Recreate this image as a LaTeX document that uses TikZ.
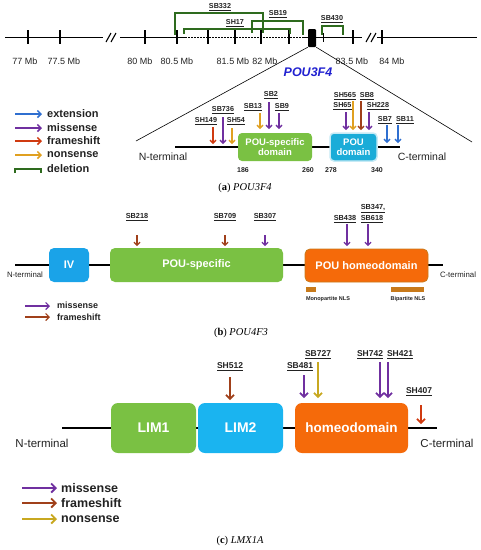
\documentclass[tikz,border=0pt]{standalone}
\usepackage{fontspec}
\setmainfont{Liberation Sans}
\newfontfamily\capfont{Liberation Serif}
\usetikzlibrary{arrows.meta}
\definecolor{cext}{HTML}{2F6FD0}
\definecolor{cmis}{HTML}{7030A0}
\definecolor{cfra}{HTML}{D03A10}
\definecolor{cnon}{HTML}{E0A020}
\definecolor{cdel}{HTML}{2E6B1E}
\definecolor{cbrown}{HTML}{A0401A}
\definecolor{cgold}{HTML}{C8A820}
\definecolor{cgreen}{HTML}{7AC143}
\definecolor{ccyan}{HTML}{1AACD8}
\definecolor{cblue}{HTML}{1AA3E8}
\definecolor{clim}{HTML}{1AB4F0}
\definecolor{corange}{HTML}{F56A0A}
\definecolor{cnls}{HTML}{C87A1A}
\definecolor{cgene}{HTML}{2020D0}
\definecolor{ctxt}{HTML}{222222}
% id, x, ytop, ybot, colour, label x, label y, label, size style
\newcommand\mutarw[9]{%
  \node[lab#9] (l#1) at (#6,#7) {\underline{#8}};
  \coordinate (s#1) at (#2,#3);
  \coordinate (e#1) at (#2,#4);
  \draw[arr#9,#5] (s#1) -- (e#1);
}
\begin{document}
\begin{tikzpicture}[x=1pt,y=-1pt,
  labA/.style={font=\fontsize{7.2}{8}\selectfont\bfseries, text=ctxt, inner sep=0pt},
  labB/.style={font=\fontsize{7.3}{8.5}\selectfont\bfseries, text=ctxt, inner sep=0pt},
  labC/.style={font=\fontsize{8.5}{9.5}\selectfont\bfseries, text=ctxt, inner sep=0pt},
  arrA/.style={line width=1.3pt, -{Straight Barb[length=3pt,width=6pt]}},
  arrB/.style={line width=1.2pt, -{Straight Barb[length=3pt,width=6pt]}},
  arrC/.style={line width=1.7pt, -{Straight Barb[length=4pt,width=8pt]}},
  chrom/.style={line width=1.5pt, black},
  tickmark/.style={line width=1.3pt, black},
  delline/.style={line width=1.2pt, cdel},
  prot/.style={line width=1.3pt, black},
  dombox/.style={rounded corners=4pt, inner sep=0pt, text=white, align=center},
  mbtext/.style={font=\fontsize{9}{10}\selectfont, text=ctxt, inner sep=0pt},
  legA/.style={font=\fontsize{11}{12}\selectfont\bfseries, text=ctxt, anchor=west, inner sep=0pt},
  legB/.style={font=\fontsize{9}{10}\selectfont\bfseries, text=ctxt, anchor=west, inner sep=0pt},
  legC/.style={font=\fontsize{12.5}{13}\selectfont\bfseries, text=ctxt, anchor=west, inner sep=0pt},
  captxt/.style={font=\capfont\fontsize{10.5}{12}\selectfont, inner sep=0pt}
]
\useasboundingbox (0,0) rectangle (481,550);

%% ================= (a) chromosome =================
\coordinate (c0) at (5,37.7);
\coordinate (c1) at (103,37.7);
\coordinate (c2) at (120,37.7);
\coordinate (c3) at (185,37.7);
\coordinate (c4) at (303,37.7);
\coordinate (c5) at (362,37.7);
\coordinate (c6) at (377,37.7);
\coordinate (c7) at (477,37.7);
\draw[chrom] (c0) -- (c1);
\draw[chrom] (c2) -- (c3);
\draw[chrom] (c4) -- (c5);
\draw[chrom] (c6) -- (c7);
\draw[line width=1.3pt, dash pattern=on 1.5pt off 1.5pt] (c3) -- (c4);
% breaks
\draw[line width=1.1pt] (106,42) -- (111,33) (111,42) -- (116,33);
\draw[line width=1.1pt] (366,42) -- (371,33) (371,42) -- (376,33);
% ticks
\foreach \x in {28,60,145,177,208,235,261,289,353,382}
  \draw[tickmark] (\x,30) -- (\x,44);
\draw[line width=1pt] (323,33) -- (323,42);
% Mb labels
\node[mbtext] (mb1) at (25,61) {77 Mb};
\node[mbtext] (mb2) at (64,61) {77.5 Mb};
\node[mbtext] (mb3) at (140,61) {80 Mb};
\node[mbtext] (mb4) at (177,61) {80.5 Mb};
\node[mbtext] (mb5) at (233,61) {81.5 Mb};
\node[mbtext] (mb6) at (265,61) {82 Mb};
\node[mbtext] (mb7) at (352,61) {83.5 Mb};
\node[mbtext] (mb8) at (392,61) {84 Mb};
% gene
\node[fill=black, minimum width=8pt, minimum height=18pt, inner sep=0pt, rounded corners=1pt] (gene) at (312,38) {};
\node[font=\fontsize{12.5}{14}\selectfont\bfseries\itshape, text=cgene, inner sep=0pt] (glabel) at (308,72) {POU3F4};
% deletions
\coordinate (d1l) at (175,35); \coordinate (d1r) at (263,33);
\draw[delline] (d1l) -- ++(0,-22) -| (d1r);
\node[labA] (ld1) at (220,7) {\underline{SB332}};
\coordinate (d2l) at (184,34); \coordinate (d2r) at (290,34);
\draw[delline] (d2l) -- ++(0,-5) -| (d2r);
\node[labA] (ld2) at (235,23) {\underline{SH17}};
\coordinate (d3l) at (252,33); \coordinate (d3r) at (303,35);
\draw[delline] (d3l) -- ++(0,-12) -| (d3r);
\node[labA] (ld3) at (278,14) {\underline{SB19}};
\coordinate (d4l) at (322,35); \coordinate (d4r) at (343,35);
\draw[delline] (d4l) -- ++(0,-9) -| (d4r);
\node[labA] (ld4) at (332,19.5) {\underline{SB430}};
% zoom lines
\coordinate (zl) at (136,141);
\coordinate (zr) at (472,142);
\draw[line width=0.6pt] (gene.south west) -- (zl);
\draw[line width=0.6pt] (gene.south east) -- (zr);

%% ================= (a) legend =================
\foreach \i/\y/\c/\t in {1/114/cext/extension, 2/128/cmis/missense, 3/141/cfra/frameshift, 4/155/cnon/nonsense}{
  \coordinate (lgAs\i) at (15,\y);
  \coordinate (lgAe\i) at (42,\y);
  \draw[line width=1.5pt, -{Straight Barb[length=3.5pt,width=7pt]}, \c] (lgAs\i) -- (lgAe\i);
  \node[legA] (lgAt\i) at (47,\y) {\t};
}
\coordinate (lgAs5) at (15,173); \coordinate (lgAe5) at (41,173);
\draw[delline, line width=1.5pt] (lgAs5) -- ++(0,-4) -| (lgAe5);
\node[legA] (lgAt5) at (47,169) {deletion};

%% ================= (a) protein =================
\coordinate (an) at (175,147);
\coordinate (ac) at (400,147);
\draw[prot] (an) -- (ac);
\node[dombox, fill=cgreen, minimum width=74pt, minimum height=28pt,
  font=\fontsize{9.5}{10.5}\selectfont\bfseries] (psdA) at (275,147) {POU-specific\\domain};
\node[dombox, fill=ccyan, draw=ccyan!25, line width=1.5pt, minimum width=47pt, minimum height=28pt,
  font=\fontsize{9.5}{10.5}\selectfont\bfseries] (pdA) at (353.5,147) {POU\\domain};
\node[font=\fontsize{10.5}{12}\selectfont, text=ctxt, inner sep=0pt] (ntA) at (163,157) {N-terminal};
\node[font=\fontsize{10.5}{12}\selectfont, text=ctxt, inner sep=0pt] (ctA) at (422,157) {C-terminal};
\node[font=\fontsize{7}{8}\selectfont\bfseries, text=ctxt, inner sep=0pt] (n186) at (243,170) {186};
\node[font=\fontsize{7}{8}\selectfont\bfseries, text=ctxt, inner sep=0pt] (n260) at (308,170) {260};
\node[font=\fontsize{7}{8}\selectfont\bfseries, text=ctxt, inner sep=0pt] (n278) at (331,170) {278};
\node[font=\fontsize{7}{8}\selectfont\bfseries, text=ctxt, inner sep=0pt] (n340) at (377,170) {340};
% mutations (a)
\mutarw{a1}{213}{127}{144}{cfra}{206}{121}{SH149}{A}
\mutarw{a2}{223}{117}{144}{cmis}{223}{110}{SB736}{A}
\mutarw{a3}{232}{128}{144}{cnon}{236}{121}{SH54}{A}
\mutarw{a4}{260}{113}{129}{cnon}{253}{107}{SB13}{A}
\mutarw{a5}{269}{102}{129}{cmis}{271}{95}{SB2}{A}
\mutarw{a6}{279}{113}{129}{cmis}{282}{107}{SB9}{A}
\mutarw{a7}{346}{112}{130}{cmis}{342.5}{106.5}{SH65}{A}
\mutarw{a8}{353}{101}{130}{cnon}{345}{96}{SH565}{A}
\mutarw{a9}{361}{101}{130}{cbrown}{367}{96}{SB8}{A}
\mutarw{a10}{369}{112}{130}{cmis}{378}{106.5}{SH228}{A}
\mutarw{a11}{387}{125}{143}{cext}{385}{120.5}{SB7}{A}
\mutarw{a12}{398}{125}{143}{cext}{405}{120.5}{SB11}{A}
\node[captxt] (capA) at (245,188) {(\textbf{a}) \textit{POU3F4}};

%% ================= (b) =================
\coordinate (bn) at (15,265);
\coordinate (bc) at (443,265);
\draw[prot] (bn) -- (bc);
\node[dombox, rounded corners=5pt, fill=cblue, minimum width=40pt, minimum height=34pt,
  font=\fontsize{11}{12}\selectfont\bfseries] (ivB) at (69,265) {IV};
\node[dombox, rounded corners=5pt, fill=cgreen, minimum width=173pt, minimum height=34pt,
  font=\fontsize{11}{12}\selectfont\bfseries] (psB) at (196.5,265) {POU-specific};
\node[dombox, rounded corners=5pt, fill=corange, draw=cnls, line width=0.8pt, minimum width=123pt, minimum height=33pt,
  font=\fontsize{11}{12}\selectfont\bfseries] (hdB) at (366.5,265.5) {POU homeodomain};
\node[fill=cnls, minimum width=10pt, minimum height=5pt, inner sep=0pt] (nls1) at (311,289.5) {};
\node[fill=cnls, minimum width=33pt, minimum height=5pt, inner sep=0pt] (nls2) at (407.5,289.5) {};
\node[font=\fontsize{5.5}{6}\selectfont\bfseries, text=ctxt, inner sep=0pt] (nlsl1) at (328,299) {Monopartite NLS};
\node[font=\fontsize{5.5}{6}\selectfont\bfseries, text=ctxt, inner sep=0pt] (nlsl2) at (408,299) {Bipartite NLS};
\node[font=\fontsize{7.8}{9}\selectfont, text=ctxt, inner sep=0pt] (ntB) at (25,275) {N-terminal};
\node[font=\fontsize{7.8}{9}\selectfont, text=ctxt, inner sep=0pt] (ctB) at (458,275) {C-terminal};
\mutarw{b1}{137}{235}{246}{cbrown}{137}{217}{SB218}{B}
\mutarw{b2}{225}{235}{246}{cbrown}{225}{217}{SB709}{B}
\mutarw{b3}{265}{235}{246}{cmis}{265}{217}{SB307}{B}
\mutarw{b4}{347}{224}{246}{cmis}{345}{219}{SB438}{B}
\node[labB] (lb5a) at (373,209) {\underline{SB347,}};
\node[labB] (lb5b) at (372,219) {\underline{SB618}};
\coordinate (sb5) at (368,224);
\coordinate (eb5) at (368,246);
\draw[arrB,cmis] (sb5) -- (eb5);
% legend (b)
\coordinate (lgBs1) at (25,306); \coordinate (lgBe1) at (50,306);
\draw[line width=1.2pt, -{Straight Barb[length=3.5pt,width=7pt]}, cmis] (lgBs1) -- (lgBe1);
\node[legB] (lgBt1) at (57,305.5) {missense};
\coordinate (lgBs2) at (25,317); \coordinate (lgBe2) at (50,317);
\draw[line width=1.2pt, -{Straight Barb[length=3.5pt,width=7pt]}, cbrown] (lgBs2) -- (lgBe2);
\node[legB] (lgBt2) at (57,317) {frameshift};
\node[captxt] (capB) at (241,333) {(\textbf{b}) \textit{POU4F3}};

%% ================= (c) =================
\coordinate (cn) at (62,428);
\coordinate (cc) at (437,428);
\draw[line width=1.5pt] (cn) -- (cc);
\node[dombox, rounded corners=7pt, fill=cgreen, minimum width=85pt, minimum height=50pt,
  font=\fontsize{14}{15}\selectfont\bfseries] (lim1) at (153.5,428) {LIM1};
\node[dombox, rounded corners=7pt, fill=clim, minimum width=85pt, minimum height=50pt,
  font=\fontsize{14}{15}\selectfont\bfseries] (lim2) at (240.5,428) {LIM2};
\node[dombox, rounded corners=7pt, fill=corange, minimum width=113pt, minimum height=50pt,
  font=\fontsize{13.5}{15}\selectfont\bfseries] (hdC) at (351.5,428) {homeodomain};
\node[font=\fontsize{11.5}{13}\selectfont, text=ctxt, inner sep=0pt] (ntC) at (42,443) {N-terminal};
\node[font=\fontsize{11.5}{13}\selectfont, text=ctxt, inner sep=0pt] (ctC) at (447,443) {C-terminal};
\mutarw{c1}{230}{377}{400}{cbrown}{230}{367}{SH512}{C}
\mutarw{c2}{304}{375}{398}{cmis}{300}{367}{SB481}{C}
\mutarw{c3}{318}{362}{398}{cgold}{318}{355}{SB727}{C}
\mutarw{c4}{380}{362}{398}{cmis}{370}{355}{SH742}{C}
\mutarw{c5}{388}{362}{398}{cmis}{400}{355}{SH421}{C}
\mutarw{c6}{421}{405}{424}{cfra}{419}{392}{SH407}{C}
% legend (c)
\foreach \i/\y/\c/\t in {1/488/cmis/missense, 2/503/cbrown/frameshift, 3/519/cgold/nonsense}{
  \coordinate (lgCs\i) at (22,\y);
  \coordinate (lgCe\i) at (57,\y);
  \draw[line width=1.8pt, -{Straight Barb[length=4.5pt,width=9pt]}, \c] (lgCs\i) -- (lgCe\i);
  \node[legC] (lgCt\i) at (61,\y) {\t};
}
\node[captxt] (capC) at (240,541) {(\textbf{c}) \textit{LMX1A}};
\end{tikzpicture}
\end{document}
